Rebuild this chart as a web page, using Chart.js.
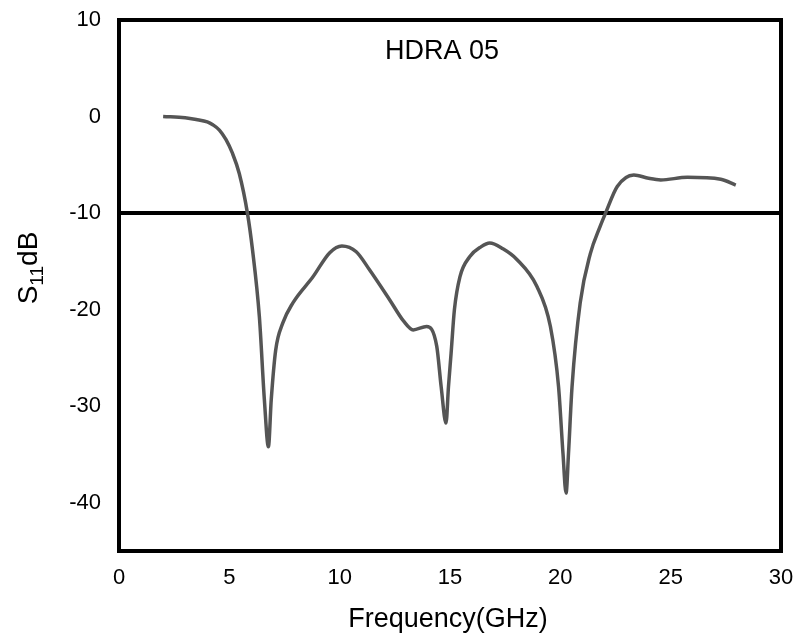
<!DOCTYPE html>
<html>
<head>
<meta charset="utf-8">
<script src="https://cdn.jsdelivr.net/npm/chart.js@4/dist/chart.umd.min.js"></script>
<style>
html,body{margin:0;padding:0;background:#fff;}
#wrap{width:796px;height:641px;}
</style>
</head>
<body>
<div id="wrap"><canvas id="c" width="796" height="641"></canvas></div>
<script>
const freqGHz = [2.0,3.0,3.5,4.0,4.25,4.55,4.85,5.14,5.45,5.82,6.05,6.36,6.59,6.77,6.9,7.1,7.42,7.88,8.79,9.55,10.1,10.75,11.36,12.27,12.9,13.33,13.94,14.4,14.6,14.82,14.93,15.05,15.2,15.45,15.9,16.4,16.8,17.4,18.03,18.94,19.55,19.92,20.12,20.26,20.37,20.53,20.9,21.36,21.8,22.05,22.58,23.33,24.0,24.55,25.76,27.27,27.95];
const s11dB   = [0,-0.12,-0.3,-0.55,-0.85,-1.4,-2.4,-3.8,-5.9,-10,-13.8,-20.7,-29.4,-34.2,-29.3,-24.2,-21.4,-19.3,-16.6,-14.1,-13.4,-14.0,-15.9,-19.0,-21.2,-22.1,-21.75,-23.8,-28,-31.75,-28,-24.5,-20,-16.6,-14.5,-13.5,-13.1,-13.7,-14.8,-17.6,-21.75,-28,-34.9,-39.0,-34.9,-28,-19.3,-14.2,-11.4,-10,-7.25,-6.05,-6.4,-6.56,-6.3,-6.5,-7.1];
const refLineX = [0, 30];
const refLineY = [-10, -10];
const xTicks = [0,5,10,15,20,25,30];
const yTicks = [-40,-30,-20,-10,0,10];
const xRange = [0, 30];
const yRange = [-45, 10];
const chartLabel = 'HDRA 05';
const xTitle = 'Frequency(GHz)';
const yTitleMain = 'S';
const yTitleSub = '11';
const yTitleTail = 'dB';

const FONT = '"Liberation Sans", Arial, sans-serif';

const framePlugin = {
  id: 'frame',
  afterDraw(chart) {
    const {ctx, chartArea: a} = chart;
    ctx.save();
    ctx.strokeStyle = '#000';
    ctx.lineWidth = 4;
    ctx.strokeRect(a.left, a.top, a.right - a.left, a.bottom - a.top);
    ctx.fillStyle = '#000';
    ctx.textAlign = 'center';
    ctx.textBaseline = 'middle';
    ctx.font = '27px ' + FONT;
    ctx.fillText(chartLabel, 442, 52);
    ctx.fillText(xTitle, 448, 620);
    // y title with subscript
    ctx.translate(27, 268);
    ctx.rotate(-Math.PI / 2);
    const big = '28px ' + FONT, small = '19px ' + FONT;
    ctx.font = big; const w1 = ctx.measureText(yTitleMain).width; const w3 = ctx.measureText(yTitleTail).width;
    ctx.font = small; const w2 = ctx.measureText(yTitleSub).width;
    let x = -(w1 + w2 + w3) / 2;
    ctx.textAlign = 'left';
    ctx.textBaseline = 'alphabetic';
    ctx.font = big; ctx.fillText(yTitleMain, x, 10); x += w1;
    ctx.font = small; ctx.fillText(yTitleSub, x, 16); x += w2;
    ctx.font = big; ctx.fillText(yTitleTail, x, 10);
    ctx.restore();
  }
};

new Chart(document.getElementById('c'), {
  type: 'line',
  data: {
    datasets: [
      {
        data: freqGHz.map((f, i) => ({x: f, y: s11dB[i]})),
        borderColor: '#555555',
        borderWidth: 3.5,
        pointRadius: 0,
        cubicInterpolationMode: 'monotone',
        fill: false
      },
      {
        data: refLineX.map((f, i) => ({x: f, y: refLineY[i]})),
        borderColor: '#000000',
        borderWidth: 4,
        pointRadius: 0,
        fill: false
      }
    ]
  },
  options: {
    responsive: false,
    animation: false,
    devicePixelRatio: 1,
    layout: {padding: {top: 20, right: 15, left: 0, bottom: 0}},
    plugins: {legend: {display: false}, tooltip: {enabled: false}, title: {display: false}},
    scales: {
      x: {
        type: 'linear',
        min: xRange[0], max: xRange[1],
        grid: {display: false, drawTicks: false},
        border: {display: false},
        afterBuildTicks(s) { s.ticks = xTicks.map(v => ({value: v})); },
        afterFit(s) { s.height = 90; s.paddingLeft = 0; s.paddingRight = 0; },
        ticks: {color: '#000', font: {family: FONT, size: 22}, padding: 14, maxRotation: 0}
      },
      y: {
        type: 'linear',
        min: yRange[0], max: yRange[1],
        grid: {display: false, drawTicks: false},
        border: {display: false},
        afterBuildTicks(s) { s.ticks = yTicks.map(v => ({value: v})); },
        afterFit(s) { s.width = 119; s.paddingTop = 0; s.paddingBottom = 0; },
        ticks: {color: '#000', font: {family: FONT, size: 22}, padding: 18}
      }
    }
  },
  plugins: [framePlugin]
});
</script>
</body>
</html>
